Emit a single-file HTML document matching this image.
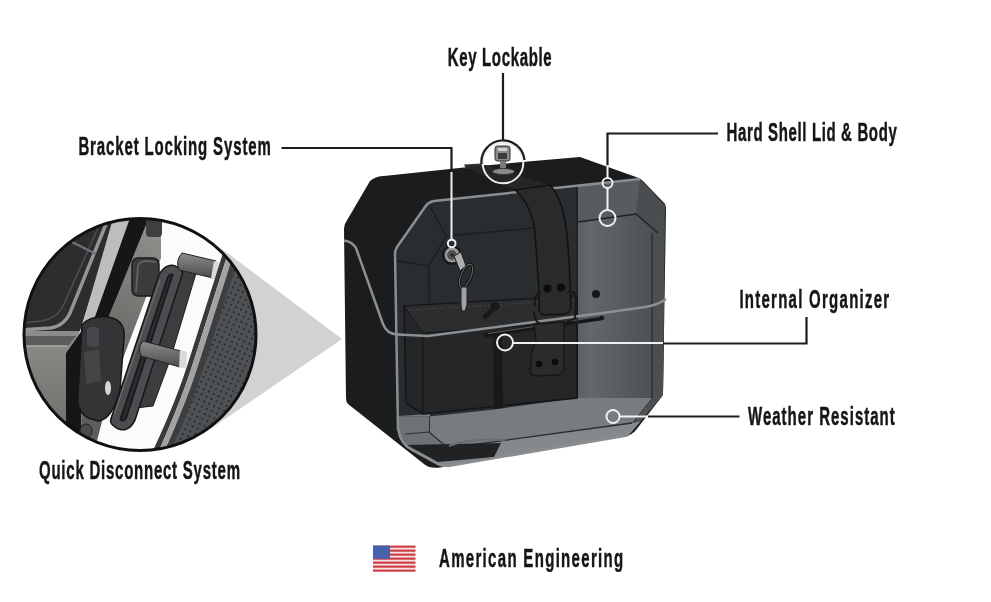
<!DOCTYPE html>
<html><head><meta charset="utf-8">
<style>
html,body{margin:0;padding:0;background:#fff;width:991px;height:602px;overflow:hidden}
svg{position:absolute;left:0;top:0;filter:blur(0.35px)}
text{font-family:"Liberation Sans",sans-serif;font-weight:bold;fill:#161616;stroke:#161616;stroke-width:0.4px;vector-effect:non-scaling-stroke}
</style></head>
<body>
<svg width="991" height="602" viewBox="0 0 991 602">
<defs>
  <clipPath id="mag"><circle cx="140" cy="334.5" r="116"/></clipPath>
  <clipPath id="win"><path d="M434,201 Q428,202 425,207 L397,247 Q395,250 395,254 L398,430 Q400,444 412,450 L436,463 Q441,466 448,466 L628,436 L663,395 L665,206 L640,179 Z"/></clipPath>
  <linearGradient id="rp" x1="0" x2="1" y1="0" y2="0">
    <stop offset="0" stop-color="#5a5e61"/><stop offset="0.15" stop-color="#64686b"/><stop offset="1" stop-color="#4c5053"/>
  </linearGradient>
  <pattern id="dots" width="5.5" height="5.5" patternUnits="userSpaceOnUse" patternTransform="rotate(25)">
    <rect width="5.5" height="5.5" fill="#4f5255"/><circle cx="2.75" cy="2.75" r="1.05" fill="#25272a"/>
  </pattern>
  <linearGradient id="pin" x1="0" x2="0" y1="0" y2="1"><stop offset="0" stop-color="#8a8c8e"/><stop offset="0.5" stop-color="#6a6c6e"/><stop offset="1" stop-color="#4a4c4e"/></linearGradient>
  <linearGradient id="plate" gradientUnits="userSpaceOnUse" x1="160" y1="230" x2="95" y2="380"><stop offset="0" stop-color="#908f8c"/><stop offset="1" stop-color="#5e5d5b"/></linearGradient>
</defs>

<!-- gray triangle -->
<path d="M342,339 L210,240 L206,432 Z" fill="#d2d2d2"/>

<!-- magnifier -->
<g clip-path="url(#mag)">
  <rect x="20" y="215" width="240" height="240" fill="#fbfbfb"/>
  <!-- right light gray above seat -->
  <path d="M221,215 L262,215 L262,300 L240,282 L232,258 Z" fill="#d2d2d2"/>
  <!-- left dark box interior -->
  <path d="M20,215 L116,215 L80,331 L20,331 Z" fill="#2b2d2f"/>
  <path d="M106,224 L72,308 Q66,326 50,328 L20,330" fill="none" stroke="#939597" stroke-width="3.5"/>
  <path d="M98,228 L64,304 Q58,318 42,321 L20,323" fill="none" stroke="#4e5053" stroke-width="1.5"/><path d="M72,242 L96,254" stroke="#6e7073" stroke-width="2.5"/>
  <!-- lower-left gray side -->
  <linearGradient id="llg" x1="0" x2="0" y1="0" y2="1"><stop offset="0" stop-color="#8e8c88"/><stop offset="1" stop-color="#6a6864"/></linearGradient>
  <path d="M20,331 L80,331 L78,336 L66,353 L66,455 L20,455 Z" fill="url(#llg)"/>
  <path d="M20,336 L76,336 L68,346 L20,346 Z" fill="#5b5d5f"/>
  <path d="M20,346 L68,346" stroke="#a9a9a7" stroke-width="1.5"/>
  <!-- light band -->
  <path d="M114,215 L131,215 L92,325 L80,333 Z" fill="#bdbdbd"/>
  <!-- black band -->
  <path d="M131,215 L152,215 L104,328 L84,345 L80,455 L66,455 L66,353 L80,333 L92,325 Z" fill="#151617"/>
  <!-- mid gray plate -->
  <path d="M150,215 L161,215 L161,258 L108,398 L97,441 L80,455 L84,345 L104,328 Z" fill="url(#plate)"/><ellipse cx="86" cy="431" rx="6" ry="7" fill="#4a4b4c" stroke="#222" stroke-width="1"/>
  <rect x="146" y="217" width="16" height="20" rx="4" fill="#3e3f40"/>
  <!-- upper bracket block -->
  <rect x="132" y="258" width="27" height="38" rx="6" fill="#3a3b3d" stroke="#1c1c1c" stroke-width="1.5"/><path d="M136,292 L138,266 Q140,261 146,261 L156,262" fill="none" stroke="#5e6062" stroke-width="2"/>
  <!-- strap arm -->
  <path d="M180,270 L197,270 L170,360 L153,406 L136,408 L154,360 Z" fill="#3b3d3f" stroke="#1e1e1e" stroke-width="1"/>
  <!-- lower bracket -->
  <path d="M82,325 Q90,315 108,317 Q126,320 124,338 L120,390 Q112,420 98,421 L88,418 Q76,410 78,395 Z" fill="#323436" stroke="#161616" stroke-width="1.5"/>
  <path d="M84,352 L99,349 L101,381 L86,384 Z" fill="#434547"/>
  <rect x="87" y="327" width="12" height="20" rx="4" fill="#45474a"/>
  <ellipse cx="108" cy="388" rx="3" ry="7" fill="#d6d6d6"/>
  <!-- D ring handle -->
  <path d="M163,277 Q169,265 178,273 L131,418 Q125,431 115,421 Z" fill="#2a2c2e" stroke="#161616" stroke-width="10.5" stroke-linejoin="round"/>
  <path d="M163,277 Q169,265 178,273 L131,418 Q125,431 115,421 Z" fill="none" stroke="#4b4d50" stroke-width="7.5" stroke-linejoin="round"/>
  <path d="M160,280 L114,415" stroke="#6a6c6e" stroke-width="1.2"/>
<!-- pins -->
  <path d="M182,253 L216,261 L213,278 L179,270 Q175,261 182,253 Z" fill="url(#pin)" stroke="#222" stroke-width="1"/>
  <path d="M214,261 L221,263 L218,280 L211,278 Z" fill="#dadada"/>
  <path d="M143,341 L181,351 L180,367 L141,356 Q137,348 143,341 Z" fill="url(#pin)" stroke="#222" stroke-width="1"/>
  <path d="M180,350 L187,352 L186,369 L179,367 Z" fill="#dadada"/>
  <!-- right strips -->
  <path d="M223,253 L189,360 Q176,402 150,457 L156,457 Q181,402 194,360 L228,253 Z" fill="#38393a"/>
  <path d="M228,253 L194,360 Q181,402 156,457 L162,457 Q187,402 200,360 L234,253 Z" fill="#a2a2a2"/>
  <!-- seat -->
  <path d="M234,253 L262,253 L262,457 L162,457 Q187,402 200,360 Z" fill="url(#dots)"/>
  <path d="M234,253 L200,360 Q187,402 162,457 L168,457 Q193,402 206,360 L240,253 Z" fill="#3c3e40"/>
</g>
<circle cx="140" cy="334.5" r="116" fill="none" stroke="#111" stroke-width="3"/>

<!-- BOX outer -->
<path d="M370,181 Q376,176 384,176 L464,167.5 L525,161.8 L580,157 L636,177 Q640,178 643,181 L665,204 Q666,206 666,210 L663,392 Q663,396 660,399 L636,430 Q632,435 626,436 L440,467.5 Q430,469 424,464 L348,404 Q346,402 346,398 L344,229 Q344,225 346,222 Z" fill="#1a1c1d"/>
<!-- top plate + strap on top -->
<path d="M464,164.5 L481,163.5 L484,167 L466,169 Z" fill="#353535"/>
<path d="M464.7,166.6 L486,165 L550,185 L515,190 Z" fill="#262626"/>
<!-- window -->
<g clip-path="url(#win)">
  <rect x="390" y="170" width="280" height="300" fill="#2a2d30"/>
  <!-- inner facets -->
  <path d="M430,206 L446,236 L534,228 M446,236 L429,266 L397,261 M429,266 L430,414" fill="none" stroke="#1b1d1f" stroke-width="1.3"/>
  <!-- right panel -->
  <rect x="578" y="170" width="76" height="300" fill="url(#rp)"/>
  <path d="M652,170 L666,170 L666,470 L652,470 Z" fill="#4b4f52"/>
  <path d="M578,188 L640,179 L636,214 L578,222 Z" fill="#585c5f"/>
  <path d="M640,179 L666,206 L658,233 L636,214 Z" fill="#4a4e51"/>
  <path d="M578,222 L636,214 L658,233" fill="none" stroke="#1f2123" stroke-width="1.3"/>
  <path d="M652,233 L652,398 L632,423" fill="none" stroke="#2a2d30" stroke-width="1.3"/>
  <path d="M577,170 L577,400" stroke="#1f2123" stroke-width="1.5"/>
  <circle cx="596" cy="294" r="4" fill="#141516"/>
  <!-- floor -->
  <path d="M390,416.5 L429,416.5 L490,410 L576,398 L652,398 L632,423 L448,448 L430,432 L430,414 Z" fill="#787c7f"/>
  <path d="M390,416.5 L429,416.5 L429,432 L448,448 L390,452 Z" fill="#6e7275"/>
  <path d="M448,448 L632,423 L650,420 L666,470 L390,470 L390,452 Z" fill="#85898c"/>
  <path d="M448,448 L632,423" stroke="#2a2d30" stroke-width="1.3"/>
  <path d="M405,434 L429,432 L448,448" fill="none" stroke="#2e3134" stroke-width="1.2"/>
  <path d="M407,445 L501,443 L494,457 L438,462 Z" fill="#202224"/><path d="M449,446 Q470,438 505,440" fill="none" stroke="#6a6e71" stroke-width="2"/>
  <!-- pouch -->
  <path d="M404,306 L577,296 L577,398 L423,414 L406,403 Z" fill="#242628" stroke="#141516" stroke-width="1.5"/><path d="M423,330 L423,414" stroke="#161718" stroke-width="1.2"/>
  <path d="M404,306 L577,296 L577,322 L423,333 Z" fill="#2b2d2f" stroke="#161718" stroke-width="1"/>
  <path d="M408,310 L575,300" stroke="#4a4c4e" stroke-width="0.8" stroke-dasharray="2,2"/>
  <path d="M493,333 L502,333 L503,408 L494,409 Z" fill="#18191a"/>
  <circle cx="495" cy="306.5" r="4.5" fill="#18191a"/><path d="M493,309 L485,317" stroke="#18191a" stroke-width="5" stroke-linecap="round"/>
</g>
<path d="M640,179 L434,201 Q428,202 425,207 L397,247 Q395,250 395,254 L398,430" fill="none" stroke="#8a8e90" stroke-width="2.5"/>
<path d="M398,428 Q400,444 412,450 L436,463 Q441,466 448,466 L624,436" fill="none" stroke="#8a8e90" stroke-width="2.5"/>
<!-- seam -->
<path d="M344,240.5 Q352,241.5 356,248 L383,324 Q387,334.5 398,334.5 L428,336 L534,322 L610,312 L645,307 Q658,305 666,299" fill="none" stroke="#8c9093" stroke-width="2.5"/>
<!-- organizer rod -->
<path d="M486,335 L602,318" stroke="#161718" stroke-width="4.5" stroke-linecap="round"/>
<path d="M488,333.5 L600,316.5" stroke="#5a5c5e" stroke-width="1"/>

<!-- strap -->
<path d="M515,190 Q532,205 535,233 L539,290 L539,308 Q539,315 546,315 L565,314 Q571,313 571,306 L569,260 Q567,228 564,216 Q560,196 550,185 Z" fill="#2b2a2a" stroke="#111" stroke-width="1.5"/>
<circle cx="547.4" cy="288.4" r="4" fill="#0c0c0c"/><circle cx="561" cy="287.5" r="4" fill="#0c0c0c"/>
<path d="M535,306 Q533,296 540,292 M568,291 Q577,291 576,300 L575,318 Q565,326 545,325 Q534,324 534,312" fill="none" stroke="#171717" stroke-width="2"/>
<!-- lower latch -->
<path d="M534,324 L564,322 L564,370 Q562,375 555,375 L536,376 Q530,375 530,370 L532,350 L536,342 Z" fill="#2c2a2a" stroke="#171717" stroke-width="1.5"/>
<circle cx="539" cy="364" r="3.3" fill="#0c0c0c"/><circle cx="555" cy="362" r="3.3" fill="#0c0c0c"/>

<!-- key lock -->
<circle cx="452" cy="255" r="10" fill="#161718"/>
<circle cx="452" cy="255" r="8" fill="#979797" stroke="#1a1a1a" stroke-width="1"/>
<circle cx="452" cy="255" r="4.2" fill="#5c5c5c" stroke="#2a2a2a" stroke-width="0.8"/>
<circle cx="452" cy="255" r="2" fill="#2a2a2a"/>
<ellipse cx="466" cy="276" rx="5" ry="12.5" transform="rotate(22 466 276)" fill="none" stroke="#121212" stroke-width="3"/>
<ellipse cx="466" cy="276" rx="5" ry="12.5" transform="rotate(22 466 276)" fill="none" stroke="#6e6e6e" stroke-width="1"/>
<path d="M454,256 L461,252 L466,266 L460,271 Z" fill="#acacac" stroke="#1e1e1e" stroke-width="1"/>
<path d="M461,287 L467,287 L467,305 L465,311 L462,311 L461,305 Z" fill="#a2a2a2" stroke="#222" stroke-width="1"/>
<!-- key lockable lock -->
<circle cx="503" cy="163" r="20.3" fill="none" stroke="#ececec" stroke-width="2"/>
<path d="M481.5,164 A21.5,21.5 0 0 1 524.5,160" fill="none" stroke="#1a1a1a" stroke-width="2.2"/>
<rect x="495" y="146" width="15" height="15" rx="2.5" fill="#8c8c8c" stroke="#2a2a2a" stroke-width="1"/>
<rect x="498" y="148" width="9" height="3" fill="#d0d0d0"/>
<rect x="498" y="153" width="9" height="6" fill="#3a3a3a"/>
<rect x="500" y="161" width="6" height="7" fill="#7a7a7a"/>
<ellipse cx="503.5" cy="171.5" rx="11" ry="3" fill="#8a8a8a" stroke="#333" stroke-width="0.8"/>

<!-- callout lines black -->
<g stroke="#1c1c1c" stroke-width="2.2" fill="none">
  <path d="M503,73 L503,141"/>
  <path d="M281.5,148 L451.5,148 L451.5,172"/>
  <path d="M718,133.5 L607.5,133.5 L607.5,166"/>
  <path d="M806.5,317 L806.5,343.5 L663,343.5"/>
  <path d="M739.5,416.5 L648,416.5"/>
</g>
<!-- callout lines white -->
<g stroke="#f0f0f0" stroke-width="2" fill="none">
  <path d="M451.5,172 L451.5,239"/>
  <path d="M607.5,165 L607.5,178 M607.5,188 L607.5,210"/>
  <path d="M513,343 L663,343"/>
  <path d="M620,416.5 L648,416.5"/>
  <circle cx="451.7" cy="243.5" r="3.8"/>
  <circle cx="607.5" cy="183" r="5"/>
  <circle cx="607.5" cy="218" r="8"/>
  <circle cx="505" cy="342.5" r="8"/>
  <circle cx="613" cy="416.5" r="6.5"/>
</g>

<!-- flag -->
<g>
  <rect x="373" y="545.6" width="42.5" height="25.6" fill="#f7e0e0"/>
  <g fill="#cc3a44"><rect x="373" y="545.6" width="42.5" height="2.1"/><rect x="373" y="549.6" width="42.5" height="2.1"/><rect x="373" y="553.6" width="42.5" height="2.1"/><rect x="373" y="557.6" width="42.5" height="2.1"/><rect x="373" y="561.6" width="42.5" height="2.1"/><rect x="373" y="565.6" width="42.5" height="2.1"/><rect x="373" y="569.6" width="42.5" height="2.1"/></g>
  <rect x="373" y="545.6" width="17" height="13.3" fill="#4862aa"/>
</g>

<!-- texts -->
<text transform="scale(0.600,1)" x="746.33" y="66.50" font-size="25" textLength="173.00" lengthAdjust="spacing">Key Lockable</text>
<text transform="scale(0.600,1)" x="130.67" y="155.30" font-size="25" textLength="320.67" lengthAdjust="spacing">Bracket Locking System</text>
<text transform="scale(0.600,1)" x="1211.00" y="140.80" font-size="25" textLength="283.67" lengthAdjust="spacing">Hard Shell Lid &amp; Body</text>
<text transform="scale(0.600,1)" x="1232.33" y="308.20" font-size="25" textLength="249.67" lengthAdjust="spacing">Internal Organizer</text>
<text transform="scale(0.600,1)" x="1246.67" y="424.70" font-size="25" textLength="244.67" lengthAdjust="spacing">Weather Resistant</text>
<text transform="scale(0.600,1)" x="65.00" y="479.20" font-size="25" textLength="335.00" lengthAdjust="spacing">Quick Disconnect System</text>
<text transform="scale(0.600,1)" x="731.67" y="566.70" font-size="25" textLength="307.00" lengthAdjust="spacing">American Engineering</text>
</svg>
</body></html>
